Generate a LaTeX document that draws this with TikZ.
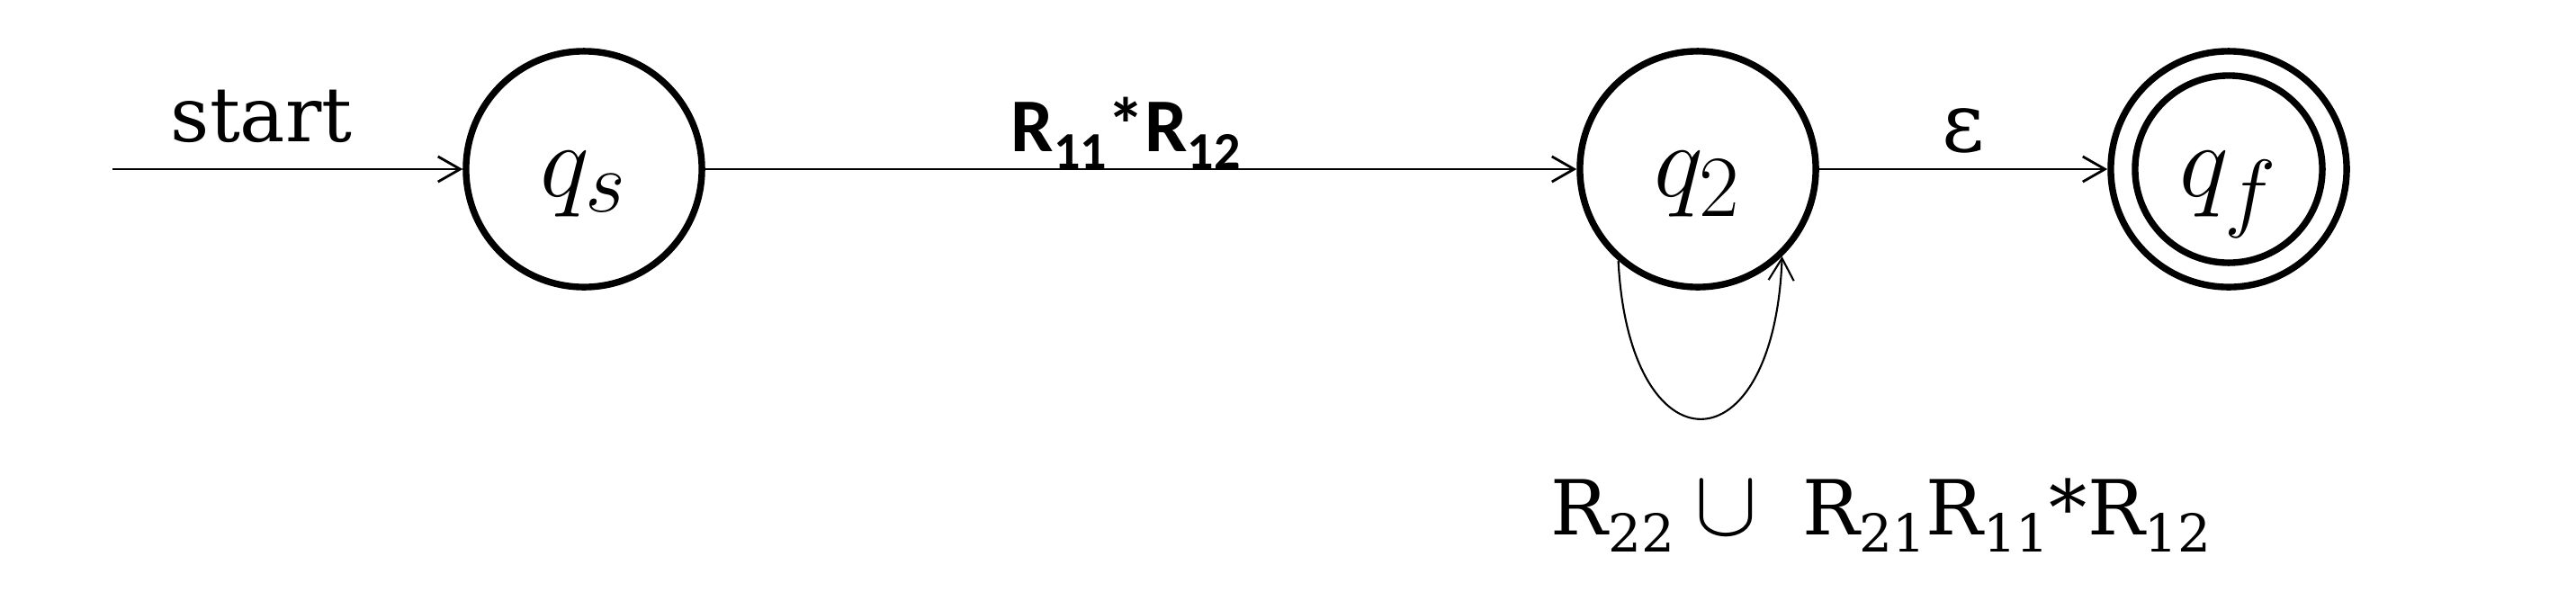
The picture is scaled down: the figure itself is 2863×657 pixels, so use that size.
\documentclass[tikz,border=0pt]{standalone}
\usepackage{fontspec}
\setmainfont{DejaVu Serif}
\newfontfamily\carl{Carlito}
\usetikzlibrary{arrows.meta}
\newcommand\sbs[1]{\raisebox{-0.19cm}{\fontsize{16.5}{17}\selectfont #1}}
\newcommand\stlabel[1]{\scalebox{1.33}{\fontsize{24.88}{30}\selectfont$#1$}}
\begin{document}
\begin{tikzpicture}[x=0.01cm,y=-0.01cm,
  state/.style={circle,draw,line width=2.1pt,minimum size=2.62cm,inner sep=0pt,
    text height=0.6cm,text depth=0cm},
  edge/.style={line width=0.8pt,-{Straight Barb[length=7pt,width=8pt,line width=0.8pt]}},
  loopedge/.style={line width=0.6pt,-{Straight Barb[length=7pt,width=8pt,line width=0.6pt]}},
  lbl/.style={font=\fontsize{24}{28}\selectfont,inner sep=0pt}]
\useasboundingbox[fill=white] (0,0) rectangle (2863,657);
\node[state] (qs) at (649,188) {\stlabel{q_s}};
\node[state] (q2) at (1887,188) {\stlabel{q_2}};
\node[state] (qf) at (2477,188) {\stlabel{q_f}};
\draw[line width=2.1pt] (qf) circle[radius=1.04cm];
\coordinate (st) at (125,188);
\draw[edge] (st) -- (qs);
\draw[edge] (qs) -- (q2);
\draw[edge] (q2) -- (qf);
\draw[loopedge] (q2.-131) .. controls +(12,236) and +(-9,239) .. (q2.-46);
\node[lbl,anchor=base west] (lstart) at (189,157) {start};
\node[lbl,anchor=base west,font=\fontsize{24}{28}\carl\bfseries] (l12) at (1123,168) {R\sbs{11}*R\sbs{12}};
\node[lbl,anchor=base,font=\fontsize{26}{30}\selectfont] (leps) at (2182,168) {ε};
\node[lbl,anchor=base west] (lloop) at (1723,594) {R\sbs{22}\hspace{0.22cm}\scalebox{1.2}{$\cup$}\hspace{0.5cm}R\sbs{21}R\sbs{11}*R\sbs{12}};
\end{tikzpicture}
\end{document}
